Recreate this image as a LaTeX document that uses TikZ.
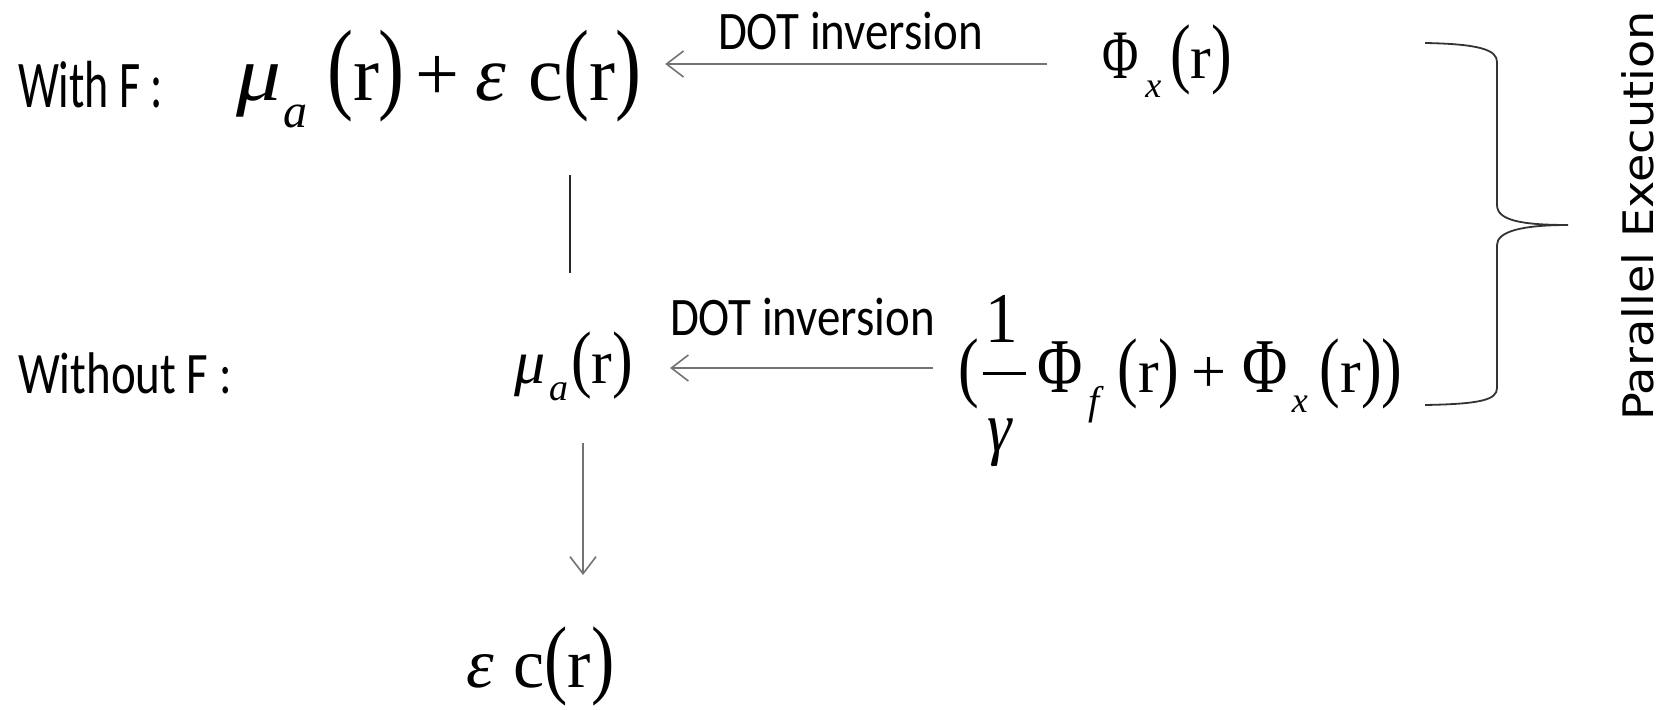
\documentclass[tikz,border=0pt]{standalone}
\usepackage{fontspec}
\usepackage{graphicx}
\usetikzlibrary{arrows.meta}
\setmainfont{Liberation Serif}
\newfontfamily\calfont{Carlito}
\newfontfamily\vfont{DejaVu Sans}
\newcommand\fsz[1]{\fontsize{#1}{#1}\selectfont}
\newcommand\Lp[1][1.3]{\scalebox{1}[#1]{(}}
\newcommand\Rp[1][1.3]{\scalebox{1}[#1]{)}}
\tikzset{
  txt/.style={anchor=base west, inner sep=0pt, outer sep=0pt},
  arr/.style={draw=black!55, line width=1.6pt, -{Straight Barb[length=17pt,width=26pt]}},
  plain/.style={draw=black!85, line width=1.5pt},
  bracestyle/.style={draw=black!80, line width=1.8pt},
}
\begin{document}
\begin{tikzpicture}[x=1pt,y=-1pt]
\fill[white] (0,0) rectangle (1669,709);
\useasboundingbox (0,0) rectangle (1669,709);

% labels
\node[txt] (withF) at (18,107) {\calfont\fsz{46}\scalebox{1}[1.45]{With F :}};
\node[txt] (withoutF) at (18,393) {\calfont\fsz{47}\scalebox{1}[1.25]{Without F :}};
\node[txt] (dot1) at (718,50) {\calfont\fsz{46}\scalebox{1.02}[1.18]{DOT inversion}};
\node[txt] (dot2) at (670,335) {\calfont\fsz{46}\scalebox{1.02}[1.18]{DOT inversion}};
\node[rotate=90, anchor=base, inner sep=0pt] (par) at (1653,216) {\vfont\fsz{42}\scalebox{1.1}[1]{Parallel Execution}};

% equations
\node[txt] (topeq) at (236,100) {\fsz{78}\scalebox{1.15}[1]{\textit{μ}}\kern2pt\raisebox{-27pt}{\fsz{48}\textit{a}}\kern20pt\Lp r\Rp\kern11pt+\kern16pt\textit{ε}\kern22pt c\Lp r\Rp};
\node[txt] (phix) at (1102,78) {\fsz{62}\scalebox{0.8}[1.12]{Φ}\kern7pt\raisebox{-19pt}{\fsz{36}\textit{x}}\kern9pt\Lp[1.25]r\Rp[1.25]};
\node[txt] (lowmu) at (514,383) {\fsz{62}\textit{μ}\kern4pt\raisebox{-17pt}{\fsz{38}\textit{a}}\kern3pt\Lp[1.2]r\Rp[1.2]};
\node[txt] (bigeq) at (958,392) {\fsz{62}\Lp[1.25]\kern4pt\rlap{\raisebox{17.5pt}{\rule{43pt}{3pt}}}\rlap{\kern3pt\raisebox{50pt}{\scalebox{1.05}[1.15]{1}}}\rlap{\kern5pt\raisebox{-59pt}{\scalebox{1}[1.15]{\textit{γ}}}}\kern55pt\scalebox{1}[1.25]{Φ}\kern6pt\raisebox{-22pt}{\fsz{40}\textit{f}}\kern13pt\Lp[1.25]r\Rp[1.25]\kern12pt+\kern16pt\scalebox{1}[1.25]{Φ}\kern4pt\raisebox{-20pt}{\fsz{36}\textit{x}}\kern12pt\Lp[1.25]r\Rp[1.25]\Rp[1.25]};
\node[txt] (epsc) at (466,687) {\fsz{70}\textit{ε}\kern20pt c\Lp[1.25]r\Rp[1.25]};

% connectors
\draw[arr] ([xshift=-55pt,yshift=14pt]phix.base west) -- ([xshift=24pt,yshift=36pt]topeq.base east);
\draw[arr] ([xshift=-25pt,yshift=24pt]bigeq.base west) -- ([xshift=37pt,yshift=15pt]lowmu.base east);
\draw[plain] ([xshift=334pt,yshift=-75pt]topeq.base west) -- ([xshift=56pt,yshift=110pt]lowmu.base west);
\draw[arr] ([xshift=69pt,yshift=-60pt]lowmu.base west) -- ([xshift=117pt,yshift=112pt]epsc.base west);

% brace
\draw[bracestyle] (1425,43) .. controls (1480,44) and (1497,50) .. (1497,62) -- (1497,205)
  .. controls (1497,220) and (1520,225) .. (1568,225)
  .. controls (1520,225) and (1497,232) .. (1497,245) -- (1497,388)
  .. controls (1497,400) and (1480,404) .. (1425,405);
\end{tikzpicture}
\end{document}
